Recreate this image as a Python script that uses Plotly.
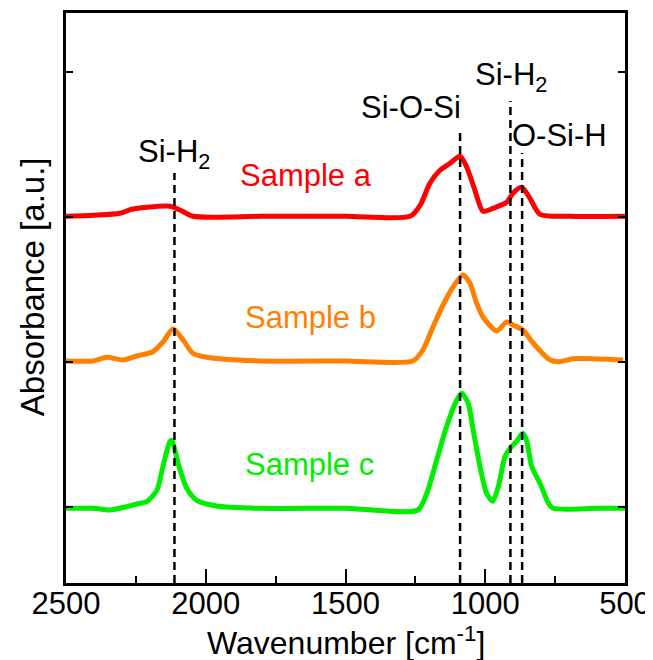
import plotly.graph_objects as go

# ---------------- data ----------------
wn_a = [2500, 2400, 2307, 2265, 2211, 2128, 2090, 2046, 1800, 1500, 1269, 1233, 1198, 1162,
        1126, 1090, 1066, 1037, 1008, 972, 923, 901, 870, 840, 804, 700, 500]
abs_a = [0.0, 0.01, 0.03, 0.07, 0.09, 0.10, 0.06, 0.0, 0.0, 0.0, 0.0, 0.11, 0.33, 0.46,
         0.53, 0.60, 0.49, 0.26, 0.05, 0.08, 0.14, 0.23, 0.29, 0.18, 0.02, 0.0, 0.0]

wn_b = [2500, 2403, 2354, 2296, 2247, 2189, 2153, 2117, 2081, 2046, 1997, 1806, 1500, 1259,
        1223, 1187, 1151, 1115, 1080, 1055, 1031, 1008, 959, 923, 901, 865, 829, 768, 733,
        686, 507]
abs_b = [0.0, 0.0, 0.037, 0.01, 0.05, 0.093, 0.19, 0.32, 0.21, 0.077, 0.037, 0.0, 0.0, 0.0,
         0.11, 0.34, 0.56, 0.74, 0.86, 0.78, 0.58, 0.44, 0.30, 0.39, 0.36, 0.31, 0.18, 0.01, -0.007,
         0.023, 0.01]

wn_c = [2500, 2403, 2343, 2283, 2247, 2211, 2175, 2153, 2128, 2121, 2099, 2068, 2032, 1961,
        1806, 1500, 1241, 1209, 1174, 1138, 1102, 1084, 1061, 1043, 1019, 995, 973, 953, 929,
        911, 888, 866, 852, 834, 804, 774, 757, 600, 500]
abs_c = [0.0, 0.0, -0.017, 0.016, 0.043, 0.066, 0.18, 0.42, 0.67, 0.68, 0.45, 0.20, 0.08, 0.023,
         0.0, 0.0, -0.017, 0.15, 0.48, 0.82, 1.08, 1.15, 1.05, 0.78, 0.42, 0.15, 0.07, 0.22, 0.52,
         0.60, 0.67, 0.75, 0.68, 0.42, 0.25, 0.05, 0.0, 0.0, 0.0]

sample_names = ["Sample a", "Sample b", "Sample c"]
offsets = [3.667, 2.22, 0.747]
colors = ["#FF0000", "#FF8000", "#00EE00"]

band_wn = [2112, 1090, 910, 868]
band_labels = ["Si-H<sub>2</sub>", "Si-O-Si", "Si-H<sub>2</sub>", "O-Si-H"]
band_line_top = [4.10, 4.53, 4.82, 4.30]
band_label_y = [4.29, 4.76, 5.06, 4.48]
band_label_x = [2113, 1264, 908, 735]

sample_label_x = [1640, 1866, 1866]
sample_label_y = [4.08, 2.66, 1.19]
sample_anchor = ["center", "left", "left"]

FONT = "Liberation Sans, Arial, sans-serif"

fig = go.Figure()

series = [(wn_a, abs_a), (wn_b, abs_b), (wn_c, abs_c)]
for (wn, ab), name, off, col in zip(series, sample_names, offsets, colors):
    fig.add_trace(go.Scatter(
        x=wn, y=[v + off for v in ab], mode="lines", name=name,
        line=dict(color=col, width=5, shape="spline", smoothing=0.7),
        showlegend=False, hoverinfo="skip"))

for wn, top in zip(band_wn, band_line_top):
    fig.add_shape(type="line", x0=wn, x1=wn, y0=0, y1=top, xref="x", yref="y",
                  line=dict(color="black", width=2.5, dash="8px,5px"), layer="above")

for txt, x, y in zip(band_labels, band_label_x, band_label_y):
    fig.add_annotation(x=x, y=y, text=txt, showarrow=False, xanchor="center", yanchor="middle",
                       font=dict(family=FONT, size=31, color="black"))

for name, x, y, col, anc in zip(sample_names, sample_label_x, sample_label_y, colors, sample_anchor):
    fig.add_annotation(x=x, y=y, text=name, showarrow=False, xanchor=anc, yanchor="middle",
                       font=dict(family=FONT, size=31, color=col))

# axis titles
fig.add_annotation(x=0, y=0.519, xref="paper", yref="paper", xshift=-34, text="Absorbance [a.u.]",
                   textangle=-90, showarrow=False, xanchor="center", yanchor="middle",
                   font=dict(family=FONT, size=33, color="black"))
fig.add_annotation(x=0.5, y=0, xref="paper", yref="paper", yshift=-58,
                   text="Wavenumber [cm<sup>-1</sup>]", showarrow=False,
                   xanchor="center", yanchor="middle",
                   font=dict(family=FONT, size=32, color="black"))

fig.update_layout(
    width=653, height=660,
    margin=dict(l=58, r=36, t=5, b=85),
    paper_bgcolor="white", plot_bgcolor="white",
    font=dict(family=FONT, size=30, color="black"),
)
fig.update_xaxes(
    range=[2500, 500], showgrid=False, zeroline=False, automargin=False,
    showline=True, linecolor="black", linewidth=3, mirror=True,
    ticks="inside", ticklen=14, tickwidth=1.5, tickcolor="black",
    tickvals=[2500, 2000, 1500, 1000, 500],
    minor=dict(ticks="inside", ticklen=7, tickwidth=1.5, tickcolor="black", dtick=250, tick0=500),
    tickfont=dict(family=FONT, size=31), ticklabelstandoff=-9,
)
fig.update_yaxes(
    range=[0, 5.70], showgrid=False, zeroline=False, automargin=False,
    showline=True, linecolor="black", linewidth=3, mirror="ticks",
    ticks="inside", ticklen=7, tickwidth=1.5, tickcolor="black",
    tick0=2.21, dtick=1.45, showticklabels=False,
)

fig.write_html("out.html")
